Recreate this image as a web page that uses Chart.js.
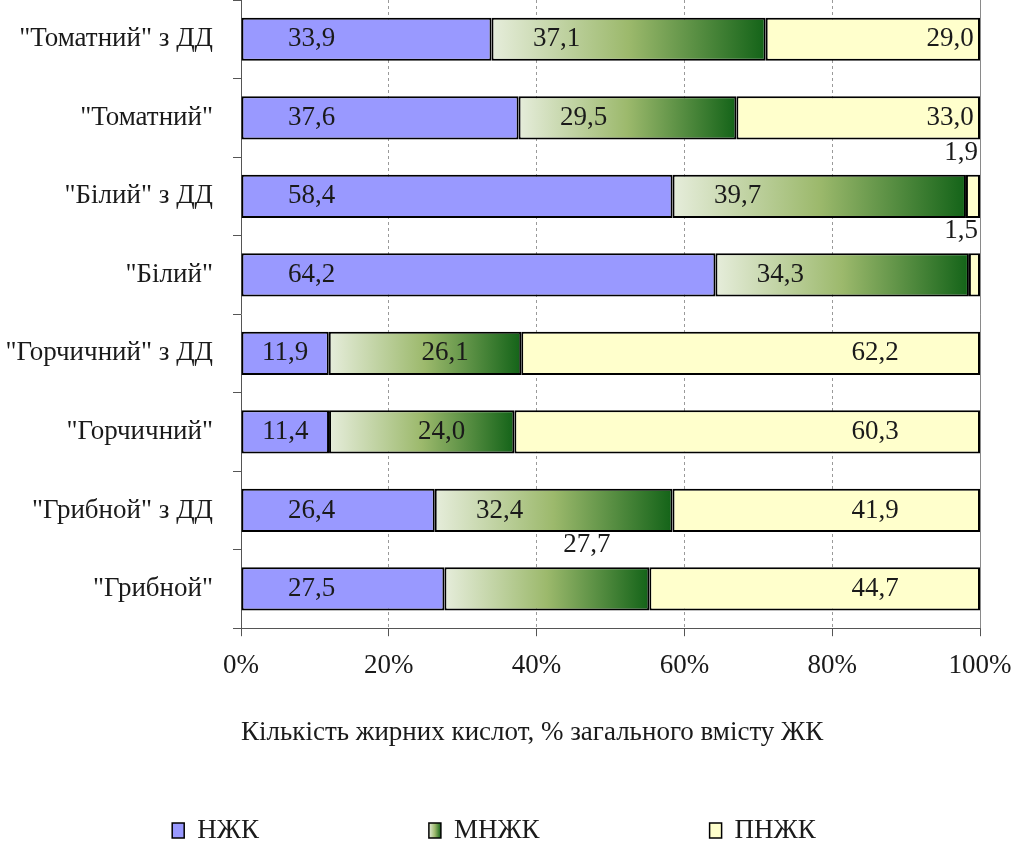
<!DOCTYPE html>
<html>
<head>
<meta charset="utf-8">
<script src="https://cdn.jsdelivr.net/npm/chart.js@4"></script>
<style>
  body { margin: 0; background: #fff; }
  #wrap { width: 1013px; height: 842px; }
</style>
</head>
<body>
<div id="wrap"><canvas id="chart"></canvas></div>
<script>
const categories = ['"Томатний" з ДД', '"Томатний"', '"Білий" з ДД', '"Білий"',
  '"Горчичний" з ДД', '"Горчичний"', '"Грибной" з ДД', '"Грибной"'];
const seriesNames = ['НЖК', 'МНЖК', 'ПНЖК'];
const nzhk = [33.9, 37.6, 58.4, 64.2, 11.9, 11.4, 26.4, 27.5];
const mnzhk = [37.1, 29.5, 39.7, 34.3, 26.1, 24.0, 32.4, 27.7];
const pnzhk = [29.0, 33.0, 1.9, 1.5, 62.2, 60.3, 41.9, 44.7];
const xTicks = [0, 20, 40, 60, 80, 100];
const axisTitle = 'Кількість жирних кислот, % загального вмісту ЖК';

const series = [nzhk, mnzhk, pnzhk];
const FONT = '"Liberation Serif", "Times New Roman", serif';

// 100% stacked: every row is scaled to its own total
const rowSum = categories.map((c, i) => series.reduce((s, arr) => s + arr[i], 0));
const pct = (s, i) => series[s][i] / rowSum[i] * 100;

// label of МНЖК for "Грибной" sits in the gap above the bar
const raisedLabels = [[1, 7]];

const greenGradient = (ctx, x0, x1) => {
  const g = ctx.createLinearGradient(x0, 0, x1, 0);
  g.addColorStop(0, '#e6eddb');
  g.addColorStop(0.5, '#9cb96c');
  g.addColorStop(1, '#136318');
  return g;
};

const mnzhkFill = (c) => {
  const chart = c.chart;
  const x = chart.scales.x;
  if (c.type !== 'data' || !chart.chartArea || !x) return '#7fa558';
  const start = pct(0, c.dataIndex);
  const end = start + pct(1, c.dataIndex);
  return greenGradient(chart.ctx, x.getPixelForValue(start), x.getPixelForValue(end));
};

const fmt = v => v.toFixed(1).replace('.', ',');

const valueLabels = {
  id: 'valueLabels',
  afterDatasetsDraw(chart) {
    const ctx = chart.ctx;
    ctx.save();
    ctx.font = '27px ' + FONT;
    ctx.fillStyle = '#1a1a1a';
    ctx.textBaseline = 'middle';
    chart.data.datasets.forEach((ds, s) => {
      chart.getDatasetMeta(s).data.forEach((bar, i) => {
        const x0 = Math.min(bar.base, bar.x), x1 = Math.max(bar.base, bar.x);
        const w = x1 - x0, mid = (x0 + x1) / 2;
        const top = bar.y - bar.height / 2;
        let px = mid, py = bar.y, align = 'center';
        if (w < 20) {
          px = x1 - 2; py = top - 22; align = 'right';
        } else if (raisedLabels.some(r => r[0] === s && r[1] === i)) {
          px = mid + 40; py = top - 22;
        } else if (s === 0) {
          px = Math.min(mid, x0 + 70);
        } else if (s === 1) {
          px = w >= 210 ? Math.min(mid, x0 + 65) : mid + 20;
        } else {
          px = w < 260 ? x1 - 30 : x1 - 105;
        }
        ctx.textAlign = align;
        ctx.fillText(fmt(series[s][i]), px, py);
      });
    });
    ctx.restore();
  }
};

const rightEdge = {
  id: 'rightEdge',
  beforeDatasetsDraw(chart) {
    const {ctx, chartArea} = chart;
    ctx.save();
    ctx.strokeStyle = '#8a8a8a';
    ctx.lineWidth = 1;
    ctx.beginPath();
    ctx.moveTo(chartArea.right + 0.5, chartArea.top);
    ctx.lineTo(chartArea.right + 0.5, chartArea.bottom);
    ctx.stroke();
    ctx.restore();
  }
};

const bottomLegend = {
  id: 'bottomLegend',
  afterDraw(chart) {
    const ctx = chart.ctx;
    ctx.save();
    ctx.font = '27px ' + FONT;
    ctx.textBaseline = 'middle';
    const box = 12, textGap = 13, gap = 170, yc = 831;
    const items = chart.data.datasets.map(ds => ({
      ds, w: box + textGap + ctx.measureText(ds.label).width
    }));
    const total = items.reduce((s, it) => s + it.w, 0) + gap * (items.length - 1);
    let x = 494 - total / 2;
    items.forEach((it, k) => {
      ctx.fillStyle = k === 1 ? greenGradient(ctx, x, x + box) : it.ds.legendColor;
      ctx.fillRect(x, yc - 8, box, 15);
      ctx.strokeStyle = '#000';
      ctx.lineWidth = 1.5;
      ctx.strokeRect(x, yc - 8, box, 15);
      ctx.fillStyle = '#1a1a1a';
      ctx.textAlign = 'left';
      ctx.fillText(it.ds.label, x + box + textGap, yc);
      x += it.w + gap;
    });
    ctx.restore();
  }
};

const barStyle = {
  borderColor: '#000',
  borderWidth: 2,
  borderSkipped: false,
  barPercentage: 0.55,
  categoryPercentage: 1
};

new Chart(document.getElementById('chart'), {
  type: 'bar',
  data: {
    labels: categories,
    datasets: [
      { label: seriesNames[0], data: categories.map((c, i) => pct(0, i)),
        backgroundColor: '#9999ff', legendColor: '#9999ff', ...barStyle },
      { label: seriesNames[1], data: categories.map((c, i) => pct(1, i)),
        backgroundColor: mnzhkFill, legendColor: '#7fa558', ...barStyle },
      { label: seriesNames[2], data: categories.map((c, i) => pct(2, i)),
        backgroundColor: '#ffffcc', legendColor: '#ffffcc', ...barStyle }
    ]
  },
  options: {
    indexAxis: 'y',
    responsive: true,
    maintainAspectRatio: false,
    animation: false,
    layout: { padding: { top: -6, right: 33, bottom: 78, left: 0 } },
    plugins: {
      legend: { display: false },
      tooltip: { enabled: false }
    },
    scales: {
      x: {
        stacked: true,
        min: 0,
        max: 100,
        afterBuildTicks: scale => { scale.ticks = xTicks.map(v => ({ value: v })); },
        afterFit: scale => {
          scale.paddingLeft = 0; scale.paddingRight = 0;
          scale.paddingTop = -6; scale.paddingBottom = 0;
        },
        ticks: {
          callback: v => v + '%',
          font: { family: FONT, size: 27 },
          color: '#1a1a1a',
          padding: 14,
          maxRotation: 0
        },
        grid: {
          color: c => (c.tick && c.tick.value > 0 && c.tick.value < 100) ? '#9a9a9a' : 'rgba(0,0,0,0)',
          tickColor: '#555',
          tickLength: 8,
          tickBorderDash: []
        },
        border: { display: true, color: '#555', width: 1, dash: [3, 3] },
        title: {
          display: true,
          align: 'start',
          text: axisTitle,
          font: { family: FONT, size: 27 },
          color: '#1a1a1a',
          padding: { top: 20, bottom: 15 }
        }
      },
      y: {
        stacked: true,
        afterFit: scale => {
          scale.width = 241;
          scale.paddingTop = -6; scale.paddingBottom = 0;
          scale.paddingLeft = 0; scale.paddingRight = 0;
        },
        ticks: {
          font: { family: FONT, size: 27 },
          color: '#1a1a1a',
          padding: 20
        },
        grid: {
          drawOnChartArea: false,
          drawTicks: true,
          tickLength: 8,
          color: '#555'
        },
        border: { display: true, color: '#555', width: 1 }
      }
    }
  },
  plugins: [rightEdge, valueLabels, bottomLegend]
});
</script>
</body>
</html>
